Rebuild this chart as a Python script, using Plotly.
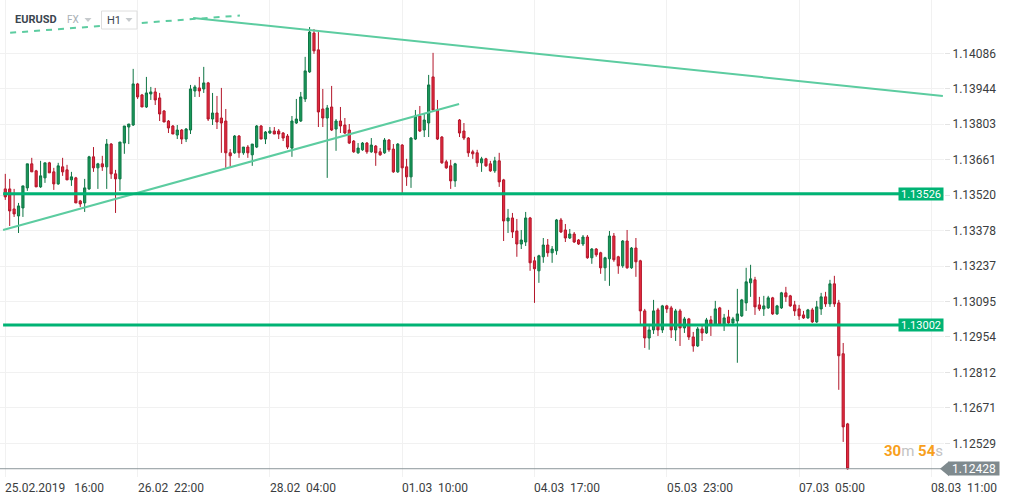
import plotly.graph_objects as go

symbol = "EURUSD"

open_ = [
    1.13545, 1.13545, 1.13465, 1.13437, 1.13469, 1.13549, 1.13645, 1.13617, 1.13553, 1.13589,
    1.13649, 1.13613, 1.13565, 1.13633, 1.13621, 1.13581, 1.13589, 1.13497, 1.13489, 1.13545,
    1.13673, 1.13629, 1.13645, 1.13633, 1.13724, 1.13605, 1.13585, 1.13728, 1.13792, 1.13800,
    1.13964, 1.13920, 1.13872, 1.13924, 1.13932, 1.13908, 1.13856, 1.13816, 1.13796, 1.13760,
    1.13780, 1.13744, 1.13780, 1.13936, 1.13948, 1.13944, 1.13968, 1.13824, 1.13848, 1.13828,
    1.13816, 1.13689, 1.13689, 1.13756, 1.13689, 1.13712, 1.13681, 1.13712, 1.13796, 1.13744,
    1.13768, 1.13776, 1.13776, 1.13768, 1.13756, 1.13708, 1.13808, 1.13816, 1.13904, 1.14012,
    1.14167, 1.14100, 1.13864, 1.13828, 1.13872, 1.13784, 1.13816, 1.13800, 1.13780, 1.13736,
    1.13689, 1.13701, 1.13728, 1.13693, 1.13716, 1.13693, 1.13689, 1.13740, 1.13704, 1.13613,
    1.13720, 1.13633, 1.13593, 1.13744, 1.13836, 1.13780, 1.13808, 1.13992, 1.13860, 1.13752,
    1.13653, 1.13637, 1.13577, 1.13820, 1.13776, 1.13748, 1.13693, 1.13689, 1.13649, 1.13665,
    1.13645, 1.13617, 1.13657, 1.13581, 1.13417, 1.13429, 1.13377, 1.13325, 1.13333, 1.13429,
    1.13258, 1.13218, 1.13274, 1.13321, 1.13290, 1.13298, 1.13421, 1.13381, 1.13349, 1.13365,
    1.13341, 1.13325, 1.13353, 1.13270, 1.13305, 1.13290, 1.13230, 1.13266, 1.13357, 1.13274,
    1.13238, 1.13337, 1.13230, 1.13309, 1.13258, 1.13058, 1.12950, 1.12982, 1.13062, 1.12982,
    1.13078, 1.13070, 1.12982, 1.13058, 1.12990, 1.13026, 1.12954, 1.12918, 1.12986, 1.12970,
    1.13022, 1.13002, 1.13070, 1.13002, 1.13034, 1.13010, 1.13018, 1.13038, 1.13090, 1.13170,
    1.13182, 1.13082, 1.13066, 1.13070, 1.13110, 1.13046, 1.13070, 1.13130, 1.13118, 1.13082,
    1.13066, 1.13042, 1.13030, 1.13062, 1.13014, 1.13066, 1.13114, 1.13086, 1.13166, 1.13090,
    1.12887, 1.12607,
]

high = [
    1.13605, 1.13585, 1.13545, 1.13489, 1.13557, 1.13645, 1.13669, 1.13621, 1.13657, 1.13649,
    1.13653, 1.13629, 1.13649, 1.13669, 1.13641, 1.13613, 1.13593, 1.13501, 1.13585, 1.13677,
    1.13712, 1.13649, 1.13677, 1.13744, 1.13728, 1.13621, 1.13732, 1.13796, 1.13804, 1.14024,
    1.13968, 1.13924, 1.13992, 1.13952, 1.13948, 1.13928, 1.13860, 1.13820, 1.13800, 1.13800,
    1.13784, 1.13788, 1.13960, 1.13960, 1.13992, 1.14032, 1.13972, 1.13928, 1.13916, 1.13948,
    1.13864, 1.13704, 1.13760, 1.13760, 1.13712, 1.13720, 1.13724, 1.13800, 1.13800, 1.13776,
    1.13792, 1.13792, 1.13784, 1.13772, 1.13764, 1.13836, 1.13904, 1.13932, 1.14072, 1.14191,
    1.14183, 1.14171, 1.13944, 1.13880, 1.13956, 1.13824, 1.13872, 1.13828, 1.13804, 1.13740,
    1.13728, 1.13732, 1.13732, 1.13748, 1.13720, 1.13708, 1.13748, 1.13744, 1.13724, 1.13728,
    1.13724, 1.13665, 1.13752, 1.13860, 1.13876, 1.13844, 1.14000, 1.14088, 1.13900, 1.13756,
    1.13661, 1.13661, 1.13649, 1.13824, 1.13808, 1.13752, 1.13701, 1.13701, 1.13673, 1.13669,
    1.13657, 1.13673, 1.13689, 1.13585, 1.13465, 1.13449, 1.13425, 1.13381, 1.13453, 1.13433,
    1.13274, 1.13282, 1.13349, 1.13345, 1.13317, 1.13425, 1.13429, 1.13405, 1.13385, 1.13373,
    1.13345, 1.13361, 1.13361, 1.13309, 1.13309, 1.13294, 1.13274, 1.13377, 1.13369, 1.13278,
    1.13341, 1.13381, 1.13313, 1.13349, 1.13262, 1.13066, 1.13006, 1.13102, 1.13070, 1.13082,
    1.13082, 1.13078, 1.13066, 1.13066, 1.13034, 1.13030, 1.12974, 1.12994, 1.13002, 1.13030,
    1.13038, 1.13098, 1.13074, 1.13046, 1.13062, 1.13034, 1.13146, 1.13106, 1.13230, 1.13242,
    1.13194, 1.13114, 1.13118, 1.13118, 1.13114, 1.13082, 1.13134, 1.13154, 1.13122, 1.13098,
    1.13082, 1.13058, 1.13066, 1.13070, 1.13098, 1.13130, 1.13134, 1.13182, 1.13198, 1.13102,
    1.12930, 1.12611,
]

low = [
    1.13501, 1.13397, 1.13433, 1.13369, 1.13433, 1.13537, 1.13613, 1.13553, 1.13549, 1.13569,
    1.13609, 1.13541, 1.13561, 1.13597, 1.13581, 1.13557, 1.13489, 1.13473, 1.13453, 1.13541,
    1.13613, 1.13545, 1.13617, 1.13545, 1.13585, 1.13449, 1.13537, 1.13685, 1.13724, 1.13796,
    1.13904, 1.13872, 1.13868, 1.13900, 1.13880, 1.13816, 1.13812, 1.13768, 1.13764, 1.13744,
    1.13724, 1.13732, 1.13764, 1.13912, 1.13912, 1.13928, 1.13816, 1.13800, 1.13784, 1.13689,
    1.13629, 1.13633, 1.13685, 1.13669, 1.13681, 1.13669, 1.13637, 1.13708, 1.13744, 1.13724,
    1.13764, 1.13764, 1.13744, 1.13736, 1.13704, 1.13673, 1.13804, 1.13812, 1.13892, 1.14008,
    1.14084, 1.13792, 1.13792, 1.13589, 1.13776, 1.13697, 1.13768, 1.13764, 1.13724, 1.13689,
    1.13685, 1.13697, 1.13685, 1.13689, 1.13637, 1.13677, 1.13685, 1.13693, 1.13609, 1.13609,
    1.13529, 1.13557, 1.13549, 1.13740, 1.13772, 1.13752, 1.13752, 1.13856, 1.13740, 1.13645,
    1.13625, 1.13545, 1.13553, 1.13752, 1.13740, 1.13673, 1.13665, 1.13633, 1.13613, 1.13633,
    1.13613, 1.13609, 1.13553, 1.13337, 1.13369, 1.13349, 1.13274, 1.13305, 1.13317, 1.13218,
    1.13090, 1.13170, 1.13250, 1.13274, 1.13250, 1.13282, 1.13369, 1.13333, 1.13345, 1.13329,
    1.13321, 1.13317, 1.13266, 1.13246, 1.13274, 1.13206, 1.13178, 1.13158, 1.13254, 1.13206,
    1.13230, 1.13226, 1.13226, 1.13194, 1.13002, 1.12910, 1.12903, 1.12966, 1.12958, 1.12970,
    1.13050, 1.12950, 1.12938, 1.12918, 1.12970, 1.12942, 1.12895, 1.12914, 1.12938, 1.12966,
    1.12958, 1.12998, 1.12998, 1.12978, 1.13006, 1.13002, 1.12851, 1.13034, 1.13058, 1.13114,
    1.13042, 1.13058, 1.13038, 1.13066, 1.13042, 1.13042, 1.13066, 1.13094, 1.13074, 1.13038,
    1.13022, 1.13026, 1.13026, 1.13010, 1.13010, 1.13042, 1.13074, 1.13074, 1.13074, 1.12743,
    1.12535, 1.12424,
]

close = [
    1.13513, 1.13457, 1.13445, 1.13477, 1.13557, 1.13645, 1.13613, 1.13553, 1.13597, 1.13649,
    1.13609, 1.13565, 1.13637, 1.13613, 1.13581, 1.13593, 1.13489, 1.13485, 1.13549, 1.13673,
    1.13629, 1.13645, 1.13633, 1.13724, 1.13605, 1.13585, 1.13732, 1.13796, 1.13804, 1.13964,
    1.13912, 1.13872, 1.13928, 1.13932, 1.13900, 1.13844, 1.13812, 1.13788, 1.13764, 1.13780,
    1.13744, 1.13784, 1.13944, 1.13952, 1.13936, 1.13968, 1.13824, 1.13848, 1.13812, 1.13808,
    1.13689, 1.13677, 1.13756, 1.13689, 1.13712, 1.13689, 1.13724, 1.13796, 1.13744, 1.13772,
    1.13776, 1.13764, 1.13764, 1.13748, 1.13712, 1.13816, 1.13824, 1.13912, 1.14016, 1.14171,
    1.14096, 1.13852, 1.13828, 1.13868, 1.13780, 1.13816, 1.13796, 1.13768, 1.13728, 1.13693,
    1.13708, 1.13728, 1.13693, 1.13720, 1.13689, 1.13681, 1.13740, 1.13701, 1.13613, 1.13724,
    1.13629, 1.13593, 1.13748, 1.13836, 1.13776, 1.13820, 1.13960, 1.13860, 1.13744, 1.13649,
    1.13629, 1.13577, 1.13645, 1.13768, 1.13748, 1.13689, 1.13685, 1.13649, 1.13665, 1.13637,
    1.13617, 1.13657, 1.13573, 1.13417, 1.13429, 1.13373, 1.13325, 1.13341, 1.13429, 1.13250,
    1.13226, 1.13278, 1.13321, 1.13290, 1.13305, 1.13421, 1.13373, 1.13349, 1.13365, 1.13333,
    1.13325, 1.13353, 1.13270, 1.13305, 1.13282, 1.13230, 1.13270, 1.13357, 1.13262, 1.13238,
    1.13337, 1.13230, 1.13309, 1.13254, 1.13058, 1.12950, 1.12982, 1.13058, 1.12982, 1.13078,
    1.13066, 1.12982, 1.13058, 1.12990, 1.13026, 1.12954, 1.12918, 1.12986, 1.12970, 1.13022,
    1.13002, 1.13066, 1.13002, 1.13030, 1.13010, 1.13026, 1.13046, 1.13102, 1.13174, 1.13186,
    1.13074, 1.13066, 1.13078, 1.13110, 1.13046, 1.13078, 1.13130, 1.13114, 1.13078, 1.13058,
    1.13038, 1.13030, 1.13062, 1.13014, 1.13074, 1.13114, 1.13086, 1.13166, 1.13086, 1.12879,
    1.12595, 1.12428,
]

x_tick_idx = [0, 30, 60, 90, 120, 150, 180, 210]
x_tick_text = [
    "25.02.2019\u00a0\u00a0\u00a016:00", "26.02\u00a0\u00a022:00", "28.02\u00a0\u00a004:00",
    "01.03\u00a0\u00a010:00", "04.03\u00a0\u00a017:00", "05.03\u00a0\u00a023:00",
    "07.03\u00a0\u00a005:00", "08.03\u00a0\u00a011:00",
]
y_tick_vals = [1.14086, 1.13944, 1.13803, 1.13661, 1.13520, 1.13378,
               1.13237, 1.13095, 1.12954, 1.12812, 1.12671, 1.12529]
levels = [1.13526, 1.13002]
last_price = 1.12428
timer_min, timer_sec = "30", "54"

# drawn trend lines: (bar index, price)
support_line = [(-0.5, 1.13381), (102.9, 1.13884)]
resistance_line = [(42.6, 1.14227), (212.6, 1.13916)]
resistance_ext = [(1.1, 1.14168), (53.2, 1.14237)]

x_range = [-1.2, 212.86]
y_range = [1.12395, 1.14299]

PW, PH = 944, 477  # plot area in px


def px(xp):
    return xp / PW


def py(yp):
    return 1 - yp / PH


x = list(range(len(close)))

fig = go.Figure()
fig.add_trace(go.Candlestick(
    x=x, open=open_, high=high, low=low, close=close,
    increasing=dict(line=dict(color="#0e7544", width=1), fillcolor="#1a9a5b"),
    decreasing=dict(line=dict(color="#b3162a", width=1), fillcolor="#e42a3f"),
    whiskerwidth=0, showlegend=False, hoverinfo="skip",
))

TL = "#5ccca0"
shapes = []
shapes.append(dict(type="line", xref="x", yref="y",
                   x0=support_line[0][0], y0=support_line[0][1],
                   x1=support_line[1][0], y1=support_line[1][1],
                   line=dict(color=TL, width=2)))
shapes.append(dict(type="line", xref="x", yref="y",
                   x0=resistance_line[0][0], y0=resistance_line[0][1],
                   x1=resistance_line[1][0], y1=resistance_line[1][1],
                   line=dict(color=TL, width=2)))
shapes.append(dict(type="line", xref="x", yref="y",
                   x0=resistance_ext[0][0], y0=resistance_ext[0][1],
                   x1=resistance_ext[1][0], y1=resistance_ext[1][1],
                   line=dict(color=TL, width=2, dash="6px,6px")))
for lv in levels:
    shapes.append(dict(type="line", xref="x", yref="y", x0=-0.5, x1=212.5,
                       y0=lv, y1=lv, line=dict(color="#00b374", width=3)))
shapes.append(dict(type="line", xref="x", yref="y", x0=x_range[0], x1=x_range[1],
                   y0=last_price, y1=last_price, line=dict(color="#8c969a", width=1)))

# header H1 box
shapes.append(dict(type="rect", xref="paper", yref="paper",
                   x0=px(101.5), x1=px(137), y0=py(29), y1=py(11),
                   fillcolor="white", line=dict(color="#dedede", width=1)))
# dropdown triangles
for cx in (88, 129):
    shapes.append(dict(type="path", xref="paper", yref="paper",
                       path=f"M {px(cx-3.5)},{py(18)} L {px(cx+3.5)},{py(18)} L {px(cx)},{py(22)} Z",
                       fillcolor="#c6cacd", line=dict(width=0)))

# price tag arrow
ypt = (last_price - y_range[0]) / (y_range[1] - y_range[0])
ypix = PH * (1 - ypt)
shapes.append(dict(type="path", xref="paper", yref="paper",
                   path=f"M {px(940)},{ypt} L {px(949)},{py(ypix-7.5)} L {px(949)},{py(ypix+7.5)} Z",
                   fillcolor="#7f8a8e", line=dict(width=0)))

annotations = []
FONT = "Roboto, Arial, sans-serif"
for i, t in zip(x_tick_idx, x_tick_text):
    annotations.append(dict(xref="x", yref="paper", x=i, y=py(488), xanchor="left",
                            yanchor="middle", text=t, showarrow=False, xshift=-2,
                            font=dict(family=FONT, size=12, color="#3a3d40")))
for lv in levels:
    annotations.append(dict(xref="paper", yref="y", x=px(943.5), y=lv, xanchor="right",
                            yanchor="middle", text=f"{lv:.5f}", showarrow=False,
                            bgcolor="#00b374", borderpad=0, width=44, height=12,
                            font=dict(family=FONT, size=11, color="white")))
annotations.append(dict(xref="paper", yref="y", x=px(974), y=last_price, xanchor="center",
                        yanchor="middle", text=f"{last_price:.5f}", showarrow=False,
                        bgcolor="#7f8a8e", borderpad=0, width=50, height=13,
                        font=dict(family=FONT, size=12, color="white")))
annotations.append(dict(
    xref="paper", yref="paper", x=px(945), y=py(451), xanchor="right", yanchor="middle",
    showarrow=False, font=dict(family=FONT, size=15),
    text=(f'<span style="color:#f8a01c"><b>{timer_min}</b></span><span style="color:#c3c3c3">m </span>'
          f'<span style="color:#f8a01c"><b>{timer_sec}</b></span><span style="color:#c3c3c3">s</span>')))
annotations.append(dict(xref="paper", yref="paper", x=px(13), y=py(20), xanchor="left",
                        yanchor="middle", text=f"<b>{symbol}</b>", showarrow=False,
                        font=dict(family=FONT, size=11, color="#3b4650")))
annotations.append(dict(xref="paper", yref="paper", x=px(65), y=py(20), xanchor="left",
                        yanchor="middle", text="FX", showarrow=False,
                        font=dict(family=FONT, size=10, color="#a9b0b5")))
annotations.append(dict(xref="paper", yref="paper", x=px(105), y=py(21), xanchor="left",
                        yanchor="middle", text="H1", showarrow=False,
                        font=dict(family=FONT, size=11, color="#3b4650")))

fig.update_layout(
    width=1011, height=504,
    margin=dict(l=0, r=1011 - PW, t=0, b=504 - PH, autoexpand=False),
    paper_bgcolor="white", plot_bgcolor="white",
    showlegend=False,
    font=dict(family=FONT),
    shapes=shapes, annotations=annotations,
    xaxis=dict(range=x_range, tickvals=x_tick_idx, showticklabels=False, showgrid=True,
               gridcolor="#f1f1f1", gridwidth=1, zeroline=False, showline=False, ticks="",
               rangeslider=dict(visible=False), fixedrange=True),
    yaxis=dict(range=y_range, side="right", tickvals=y_tick_vals,
               ticktext=[f"{v:.5f}" for v in y_tick_vals], showgrid=True,
               gridcolor="#f1f1f1", gridwidth=1, zeroline=False, showline=False,
               ticks="outside", ticklen=5, tickcolor="#e3e3e3",
               tickfont=dict(family=FONT, size=12, color="#3a3d40"), fixedrange=True),
)

fig.write_html(
    "out.html",
    config={"displayModeBar": False},
    post_script="document.body.style.margin='0px';document.body.style.overflow='hidden';",
)
